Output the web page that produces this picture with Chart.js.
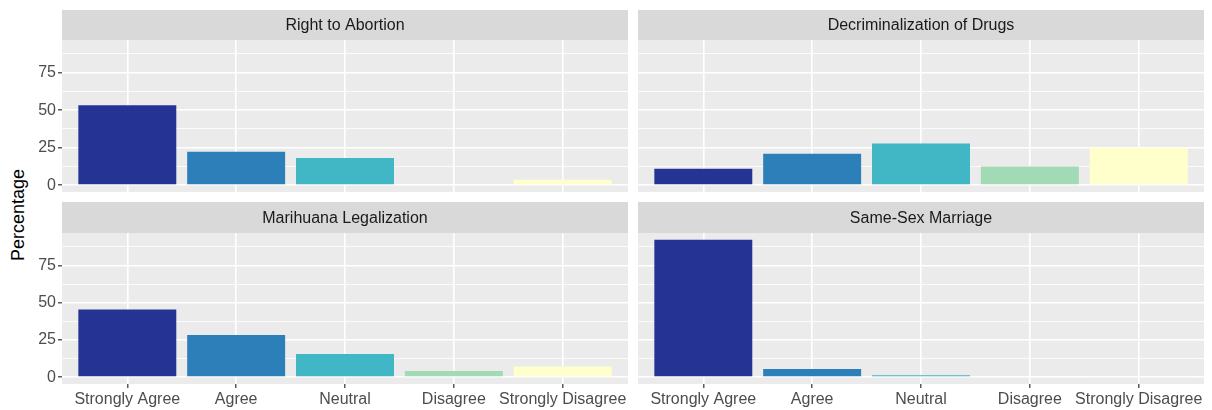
<!DOCTYPE html>
<html>
<head>
<meta charset="utf-8">
<script src="https://cdn.jsdelivr.net/npm/chart.js@4"></script>
<style>
  html, body { margin: 0; padding: 0; background: #ffffff; }
  #wrap { position: relative; width: 1212px; height: 410px; overflow: hidden; font-family: "Liberation Sans", Arial, sans-serif; }
  .pane { position: absolute; }
  #ytitle { position: absolute; left: 18px; top: 215px; transform: translate(-50%, -50%) rotate(-90deg); font-size: 18px; color: #000; white-space: nowrap; }
</style>
</head>
<body>
<div id="wrap">
  <div id="ytitle">Percentage</div>
  <div class="pane" style="left:22px;top:10px;width:606px;height:182px;"><canvas id="c0"></canvas></div>
  <div class="pane" style="left:638px;top:10px;width:566px;height:182px;"><canvas id="c1"></canvas></div>
  <div class="pane" style="left:22px;top:202px;width:606px;height:208px;"><canvas id="c2"></canvas></div>
  <div class="pane" style="left:638px;top:202px;width:566px;height:208px;"><canvas id="c3"></canvas></div>
</div>
<script>
// ---- data ----
const categories = ['Strongly Agree', 'Agree', 'Neutral', 'Disagree', 'Strongly Disagree'];
const panelTitles = ['Right to Abortion', 'Decriminalization of Drugs', 'Marihuana Legalization', 'Same-Sex Marriage'];
const rightToAbortion = [53.3, 22.2, 18.0, 0, 3.5];
const decriminalizationOfDrugs = [10.9, 20.9, 27.7, 12.4, 24.9];
const marihuanaLegalization = [45.4, 28.3, 15.6, 4.2, 7.1];
const sameSexMarriage = [92.2, 5.5, 1.3, 0, 0.7];
const yMajorTicks = [0, 25, 50, 75];
const yMinorTicks = [12.5, 37.5, 62.5, 87.5];
const barColors = ['#253494', '#2c7fb8', '#41b6c4', '#a1dab4', '#ffffcc'];

const panelValues = [rightToAbortion, decriminalizationOfDrugs, marihuanaLegalization, sameSexMarriage];

const FONT = '"Liberation Sans", Arial, sans-serif';
const STRIP_H = [30, 30, 31, 31];

const facetPlugin = {
  id: 'facet',
  beforeDraw(chart, args, opts) {
    const { ctx, chartArea: a } = chart;
    ctx.save();
    ctx.fillStyle = '#ebebeb';
    ctx.fillRect(a.left, a.top, a.right - a.left, a.bottom - a.top);
    ctx.fillStyle = '#d9d9d9';
    ctx.fillRect(a.left, a.top - opts.stripH, a.right - a.left, opts.stripH);
    ctx.fillStyle = '#1a1a1a';
    ctx.font = '16px ' + FONT;
    ctx.textAlign = 'center';
    ctx.textBaseline = 'middle';
    ctx.fillText(opts.title, (a.left + a.right) / 2, a.top - opts.stripH / 2 + 1);
    ctx.restore();
  }
};

function makeChart(idx) {
  const isLeft = idx % 2 === 0;
  const isBottom = idx >= 2;
  const vals = panelValues[idx];
  const allY = yMajorTicks.concat(yMinorTicks).sort((p, q) => p - q);
  return new Chart(document.getElementById('c' + idx), {
    type: 'bar',
    data: {
      datasets: [{
        data: vals.map((v, i) => ({ x: i, y: v })),
        backgroundColor: barColors,
        borderWidth: 0,
        categoryPercentage: 0.9,
        barPercentage: 1.0
      }]
    },
    options: {
      responsive: true,
      maintainAspectRatio: false,
      animation: false,
      events: [],
      layout: { padding: { top: STRIP_H[idx], left: 0, right: 0, bottom: 0 } },
      plugins: {
        legend: { display: false },
        tooltip: { enabled: false },
        title: { display: false },
        facet: { title: panelTitles[idx], stripH: STRIP_H[idx] }
      },
      scales: {
        x: {
          type: 'linear',
          min: -0.6,
          max: 4.6,
          offset: false,
          afterBuildTicks: s => { s.ticks = categories.map((c, i) => ({ value: i })); },
          afterFit: s => { s.height = isBottom ? 26 : 0; s.paddingLeft = 0; s.paddingRight = 0; },
          border: { display: false },
          grid: {
            offset: false,
            color: '#ffffff',
            lineWidth: 1.6,
            drawTicks: isBottom,
            tickLength: 4,
            tickColor: '#333333',
            tickWidth: 1.2
          },
          ticks: {
            display: isBottom,
            autoSkip: false,
            maxRotation: 0,
            minRotation: 0,
            padding: 2,
            color: '#4d4d4d',
            font: { family: FONT, size: 16 },
            callback: v => categories[v]
          }
        },
        y: {
          type: 'linear',
          min: -4.6,
          max: 96.8,
          afterBuildTicks: s => { s.ticks = allY.map(v => ({ value: v })); },
          afterFit: s => { s.width = isLeft ? 40 : 0; s.paddingTop = 0; s.paddingBottom = 0; },
          border: { display: false },
          grid: {
            color: '#ffffff',
            lineWidth: c => (c.tick && yMajorTicks.includes(c.tick.value)) ? 1.6 : 0.8,
            drawTicks: isLeft,
            tickLength: 4,
            tickWidth: 1.2,
            tickColor: c => (c.tick && yMajorTicks.includes(c.tick.value)) ? '#333333' : 'rgba(0,0,0,0)'
          },
          ticks: {
            display: isLeft,
            autoSkip: false,
            padding: 2,
            color: '#4d4d4d',
            font: { family: FONT, size: 16 },
            callback: v => yMajorTicks.includes(v) ? String(v) : ''
          }
        }
      }
    },
    plugins: [facetPlugin]
  });
}

[0, 1, 2, 3].forEach(makeChart);
</script>
</body>
</html>
